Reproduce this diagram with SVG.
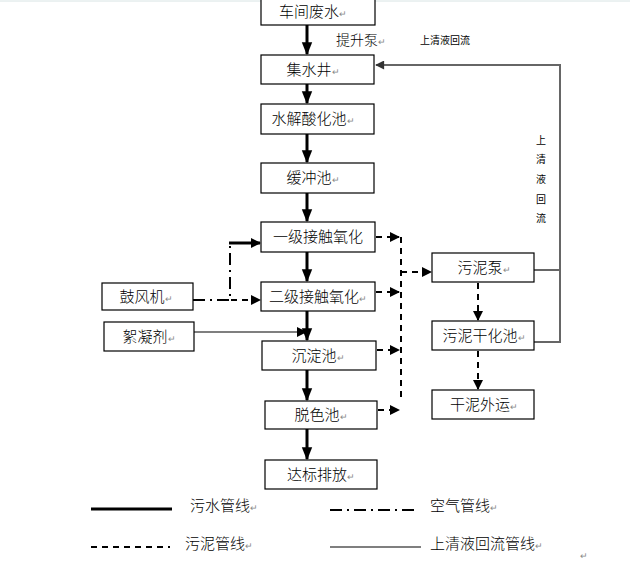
<svg xmlns="http://www.w3.org/2000/svg" width="630" height="563" viewBox="0 0 630 563">
<defs>
<style>
.box{fill:#fff;stroke:#000;stroke-width:1.2}
.t{font-family:"Noto Sans CJK SC",sans-serif;font-weight:300;font-size:15px;fill:#000;text-anchor:middle}
.rm{font-size:9px;fill:#888}
.s{font-family:"Noto Sans CJK SC",sans-serif;font-size:10px;fill:#000}
.water{stroke:#000;stroke-width:3;fill:none}
.sludge{stroke:#000;stroke-width:2;stroke-dasharray:6,5;fill:none}
.air{stroke:#000;stroke-width:2;stroke-dasharray:12,5,2,5;fill:none}
.ret{stroke:#666;stroke-width:2;fill:none}
.thin{stroke:#000;stroke-width:1.2;fill:none}
</style>
<marker id="ah" viewBox="0 0 10 10" refX="9" refY="5" markerWidth="10" markerHeight="10" markerUnits="userSpaceOnUse" orient="auto"><path d="M0,0 L10,5 L0,10 z" fill="#000"/></marker>
<marker id="ahs" viewBox="0 0 10 10" refX="9" refY="5" markerWidth="13" markerHeight="13" markerUnits="userSpaceOnUse" orient="auto"><path d="M0,1 L10,5 L0,9 z" fill="#000"/></marker>
<marker id="ahg" viewBox="0 0 10 10" refX="9" refY="5" markerWidth="10" markerHeight="9" markerUnits="userSpaceOnUse" orient="auto"><path d="M0,0 L10,5 L0,10 z" fill="#333"/></marker>
</defs>
<rect width="630" height="563" fill="#fff"/>
<line x1="0" y1="1" x2="630" y2="1" stroke="#d8e4e4" stroke-width="1"/>

<g id="connectors">
<line class="water" x1="307" y1="25" x2="307" y2="54" marker-end="url(#ahs)"/>
<line class="water" x1="307" y1="84" x2="307" y2="103" marker-end="url(#ahs)"/>
<line class="water" x1="307" y1="134" x2="307" y2="162" marker-end="url(#ahs)"/>
<line class="water" x1="307" y1="193" x2="307" y2="221" marker-end="url(#ahs)"/>
<line class="water" x1="307" y1="252" x2="307" y2="281" marker-end="url(#ahs)"/>
<line class="water" x1="307" y1="311" x2="307" y2="340" marker-end="url(#ahs)"/>
<line class="water" x1="307" y1="370" x2="307" y2="400" marker-end="url(#ahs)"/>
<line class="water" x1="307" y1="429" x2="307" y2="459" marker-end="url(#ahs)"/>
<path class="air" d="M193,300 H230 V243"/>
<line class="water" x1="229" y1="243" x2="260" y2="243" marker-end="url(#ah)"/>
<line class="sludge" x1="231" y1="300" x2="260" y2="300" marker-end="url(#ah)"/>
<line class="thin" x1="194" y1="332" x2="306" y2="332" marker-end="url(#ah)"/>
<line class="sludge" x1="376" y1="237" x2="399" y2="237" marker-end="url(#ah)"/>
<line class="sludge" x1="376" y1="292" x2="399" y2="292" marker-end="url(#ah)"/>
<line class="sludge" x1="377" y1="350" x2="399" y2="350" marker-end="url(#ah)"/>
<line class="sludge" x1="378" y1="410" x2="399" y2="410" marker-end="url(#ah)"/>
<line class="sludge" x1="401" y1="237" x2="401" y2="402"/>
<line class="sludge" x1="401" y1="272" x2="431" y2="272" marker-end="url(#ah)"/>
<line class="sludge" x1="478" y1="283" x2="478" y2="320" marker-end="url(#ah)"/>
<line class="sludge" x1="478" y1="351" x2="478" y2="389" marker-end="url(#ah)"/>
<path class="ret" d="M534,270 H560"/>
<path class="ret" d="M534,342 H560 V65 H376" marker-end="url(#ahg)"/>
</g>

<g id="n1"><rect class="box" x="261" y="-2" width="114" height="27"/><text class="t" x="313" y="17">车间废水<tspan class="rm">↵</tspan></text></g>
<g id="n2"><rect class="box" x="261" y="55" width="113" height="29"/><text class="t" x="313" y="75">集水井<tspan class="rm">↵</tspan></text></g>
<g id="n3"><rect class="box" x="261" y="104" width="113" height="30"/><text class="t" x="313" y="124">水解酸化池<tspan class="rm">↵</tspan></text></g>
<g id="n4"><rect class="box" x="261" y="163" width="113" height="30"/><text class="t" x="313" y="183">缓冲池<tspan class="rm">↵</tspan></text></g>
<g id="n5"><rect class="box" x="261" y="222" width="114" height="30"/><text class="t" x="318" y="242">一级接触氧化</text></g>
<g id="n6"><rect class="box" x="261" y="282" width="114" height="29"/><text class="t" x="318" y="302">二级接触氧化<tspan class="rm">↵</tspan></text></g>
<g id="n7"><rect class="box" x="262" y="341" width="114" height="29"/><text class="t" x="318" y="361">沉淀池<tspan class="rm">↵</tspan></text></g>
<g id="n8"><rect class="box" x="265" y="401" width="112" height="28"/><text class="t" x="321" y="420">脱色池<tspan class="rm">↵</tspan></text></g>
<g id="n9"><rect class="box" x="265" y="460" width="112" height="29"/><text class="t" x="321" y="480">达标排放<tspan class="rm">↵</tspan></text></g>
<g id="n10"><rect class="box" x="102" y="283" width="91" height="27"/><text class="t" x="146" y="302">鼓风机<tspan class="rm">↵</tspan></text></g>
<g id="n11"><rect class="box" x="104" y="322" width="90" height="29"/><text class="t" x="149" y="342">絮凝剂<tspan class="rm">↵</tspan></text></g>
<g id="n12"><rect class="box" x="432" y="253" width="102" height="29"/><text class="t" x="484" y="273">污泥泵<tspan class="rm">↵</tspan></text></g>
<g id="n13"><rect class="box" x="432" y="321" width="102" height="29"/><text class="t" x="484" y="341">污泥干化池<tspan class="rm">↵</tspan></text></g>
<g id="n14"><rect class="box" x="432" y="390" width="102" height="29"/><text class="t" x="484" y="410">干泥外运<tspan class="rm">↵</tspan></text></g>

<g id="labels">
<text class="t" x="361" y="45" style="font-size:14px">提升泵<tspan class="rm">↵</tspan></text>
<text class="s" x="420" y="44">上清液回流</text>
<text class="s" x="536" y="144">上</text>
<text class="s" x="536" y="163">清</text>
<text class="s" x="536" y="183">液</text>
<text class="s" x="536" y="203">回</text>
<text class="s" x="536" y="222">流</text>
</g>

<g id="legend">
<line class="water" x1="91" y1="509" x2="172" y2="509"/>
<text class="t" x="190" y="511" style="text-anchor:start">污水管线<tspan class="rm">↵</tspan></text>
<line class="air" x1="330" y1="510" x2="418" y2="510"/>
<text class="t" x="430" y="511" style="text-anchor:start">空气管线<tspan class="rm">↵</tspan></text>
<line class="sludge" x1="91" y1="547" x2="170" y2="547"/>
<text class="t" x="185" y="549" style="text-anchor:start">污泥管线<tspan class="rm">↵</tspan></text>
<line class="thin" x1="330" y1="547" x2="421" y2="547"/>
<text class="t" x="430" y="549" style="text-anchor:start">上清液回流管线<tspan class="rm">↵</tspan></text>
<text class="rm" x="580" y="559" style="font-family:sans-serif">↵</text>
</g>
</svg>
